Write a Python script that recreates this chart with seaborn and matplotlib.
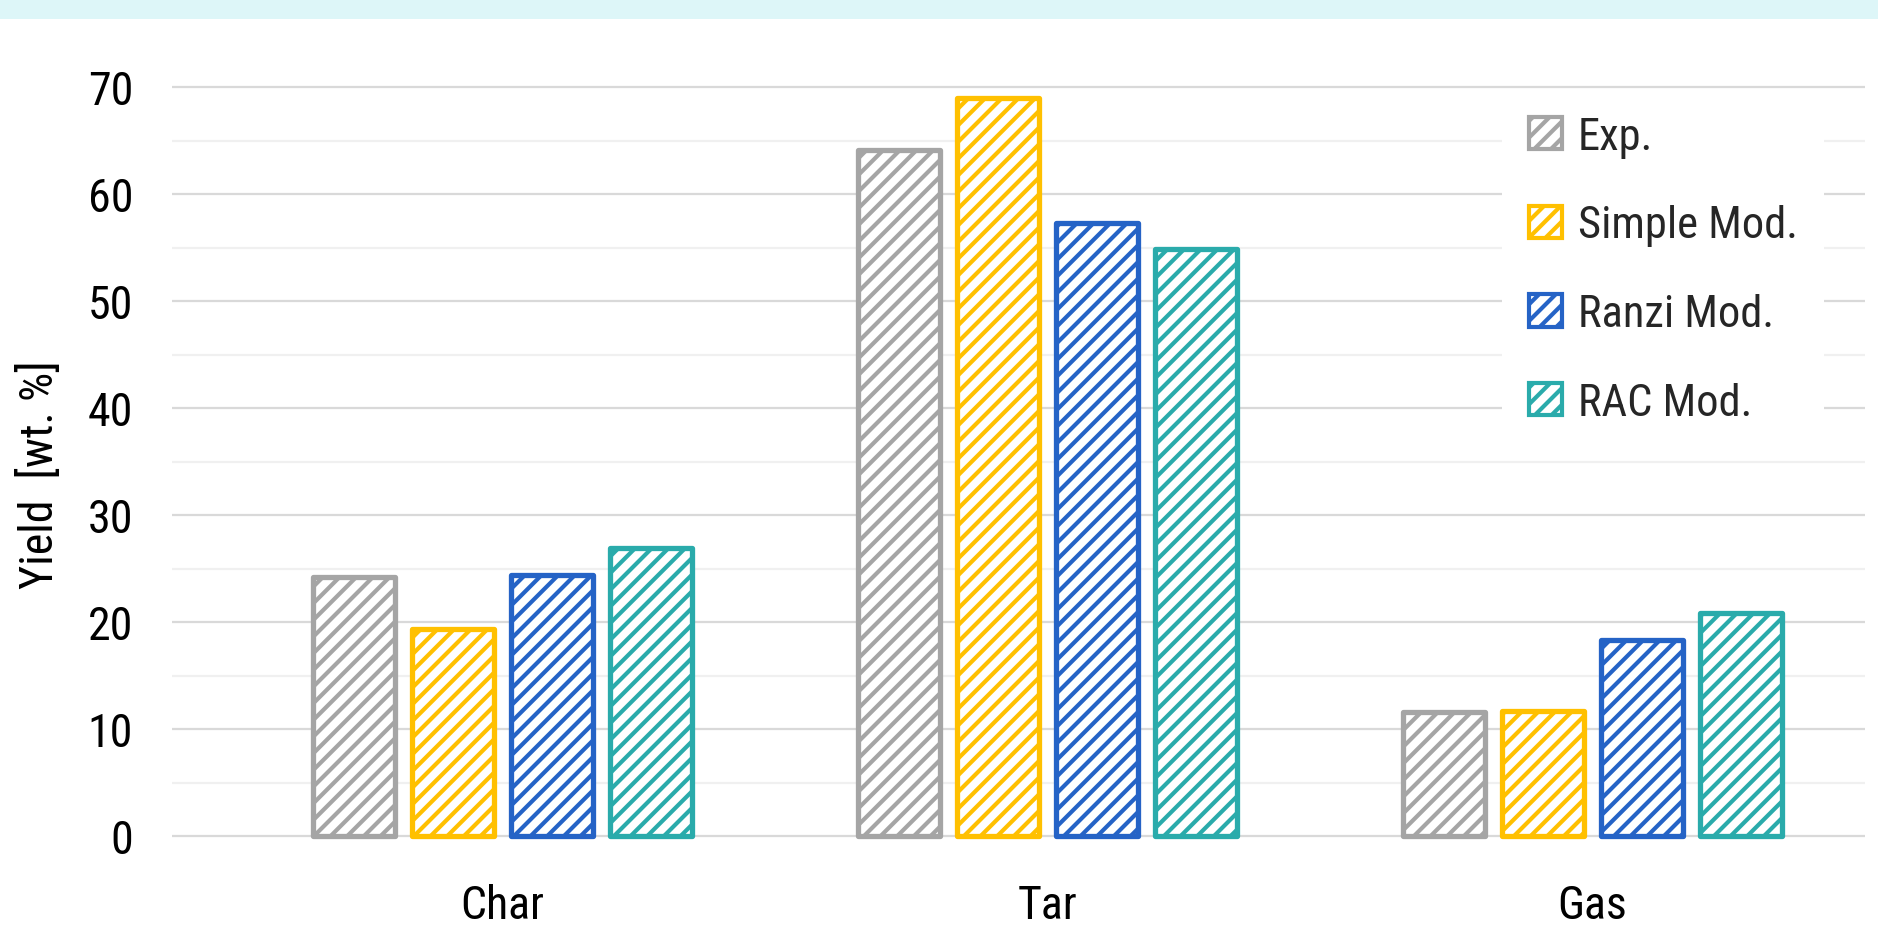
import matplotlib
matplotlib.use("Agg")
import matplotlib.pyplot as plt
from matplotlib.patches import Patch, Rectangle
from matplotlib.ticker import MultipleLocator
import seaborn as sns
import pandas as pd

# Product yields per fraction
categories = ["Char", "Tar", "Gas"]
series = ["Exp.", "Simple Mod.", "Ranzi Mod.", "RAC Mod."]
exp_vals = [24.2, 64.1, 11.6]
simple_vals = [19.3, 69.0, 11.7]
ranzi_vals = [24.4, 57.3, 18.3]
rac_vals = [26.9, 54.9, 20.8]
y_ticks = [0, 10, 20, 30, 40, 50, 60, 70]

colors = ["#A5A5A5", "#FFC000", "#2563C6", "#2AABAB"]

rows = []
for name, vals in zip(series, [exp_vals, simple_vals, ranzi_vals, rac_vals]):
    for cat, v in zip(categories, vals):
        rows.append({"Fraction": cat, "Model": name, "Yield": v})
df = pd.DataFrame(rows)

sns.set_theme(style="white")
plt.rcParams["font.family"] = ["Roboto Condensed", "DejaVu Sans"]
plt.rcParams["font.stretch"] = "condensed"
plt.rcParams["font.weight"] = "normal"
plt.rcParams["axes.labelweight"] = "normal"
plt.rcParams["hatch.linewidth"] = 3.0

W, H = 1878, 928
fig = plt.figure(figsize=(W / 100, H / 100), dpi=100)
fig.patch.set_facecolor("white")
fig.patches.append(Rectangle((0, 1 - 20 / H), 1, 20 / H, transform=fig.transFigure,
                             facecolor="#DDF6F8", edgecolor="none", zorder=0))

ymin, ymax = -0.5, 70.5
px_per_unit = 10.7
y0_px = 837
bottom_px = y0_px - ymin * px_per_unit
top_px = y0_px - ymax * px_per_unit
left_px, right_px = 172, 1865
ax = fig.add_axes([left_px / W, 1 - bottom_px / H, (right_px - left_px) / W,
                   (bottom_px - top_px) / H])

sns.barplot(data=df, x="Fraction", y="Yield", hue="Model", order=categories,
            hue_order=series, palette=colors, width=0.727, gap=0.17,
            ax=ax, legend=False, zorder=3)

for cont, col in zip(ax.containers, colors):
    for bar in cont:
        bar.set_facecolor("white")
        bar.set_edgecolor(col)
        bar.set_linewidth(3.8)
        bar.set_hatch("//")
        bar.set_joinstyle("round")

ax.set_xlim(-0.606, 2.5)
ax.set_ylim(ymin, ymax)
ax.set_yticks(y_ticks)
ax.yaxis.set_minor_locator(MultipleLocator(5))
ax.grid(axis="y", which="major", color="#D9D9D9", linewidth=1.6, zorder=0)
ax.grid(axis="y", which="minor", color="#F0F0F0", linewidth=1.6, zorder=0)
ax.set_axisbelow(True)
for s in ax.spines.values():
    s.set_visible(False)
ax.tick_params(axis="both", which="both", length=0, labelsize=33, labelcolor="black")
ax.tick_params(axis="y", pad=28)
ax.tick_params(axis="x", pad=30)
ax.set_xlabel("")
ax.set_ylabel("Yield  [wt. %]", fontsize=33, color="black", fontweight="normal")
ax.yaxis.set_label_coords((62 - left_px) / (right_px - left_px),
                          (bottom_px - 475) / (bottom_px - top_px))

handles = [Patch(facecolor="white", edgecolor=c, hatch="//", linewidth=3.0, label=s)
           for s, c in zip(series, colors)]
leg = ax.legend(handles=handles, loc="upper left",
                bbox_to_anchor=(1502 / W, 1 - 90 / H), bbox_transform=fig.transFigure,
                fontsize=32, frameon=True, fancybox=False, borderpad=0.6,
                handlelength=0.75, handleheight=0.75, handletextpad=0.35,
                labelspacing=1.05, borderaxespad=0)
leg.get_frame().set_facecolor("white")
leg.get_frame().set_edgecolor("none")
leg.get_frame().set_alpha(1)

fig.savefig("out.png", dpi=100, facecolor="white")
